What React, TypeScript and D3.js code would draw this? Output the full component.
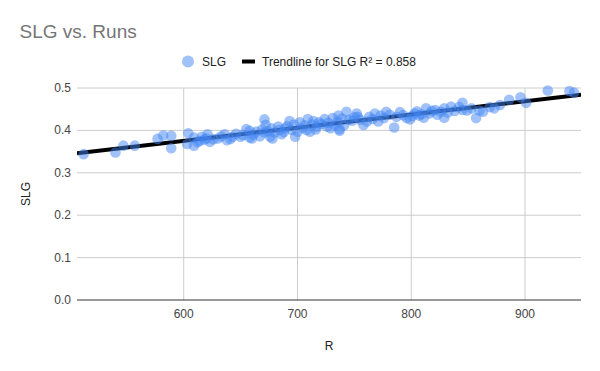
import React from "react";
import * as d3 from "d3";

const runs: number[] = [
  512, 540, 547, 557, 577, 582, 589, 589, 604, 603, 609, 609, 616, 614, 620, 621, 623, 630, 636, 638,
  643, 650, 655, 658, 658, 664, 671, 672, 671, 676, 677, 683, 686, 689, 693, 695, 698, 702, 704, 709,
  711, 714, 717, 724, 726, 721, 729, 731, 736, 737, 743, 745, 752, 753, 758, 761, 768, 771, 778, 785,
  790, 796, 803, 807, 813, 816, 821, 829, 829, 826, 835, 845, 845, 853, 857, 863, 873, 878, 886, 896,
  901, 920, 939, 943,
  612, 618, 626, 633, 641, 646, 652, 661, 667, 669, 674, 680, 684, 688, 691, 697, 700, 706, 708, 713,
  716, 719, 727, 733, 735, 739, 741, 748, 750, 755, 763, 766, 773, 776, 781, 787, 793, 799, 801, 805,
  809, 811, 818, 823, 832, 838, 842, 849, 860, 869, 678, 660, 737,
];

const slg: number[] = [
  0.344, 0.348, 0.364, 0.364, 0.38, 0.388, 0.387, 0.358, 0.393, 0.368, 0.364, 0.383, 0.385, 0.375, 0.381, 0.391, 0.373, 0.381, 0.391, 0.377,
  0.385, 0.385, 0.403, 0.399, 0.383, 0.397, 0.426, 0.413, 0.395, 0.385, 0.405, 0.409, 0.391, 0.405, 0.422, 0.401, 0.385, 0.419, 0.405, 0.427,
  0.397, 0.422, 0.409, 0.427, 0.409, 0.415, 0.405, 0.429, 0.435, 0.399, 0.444, 0.425, 0.44, 0.432, 0.413, 0.421, 0.44, 0.421, 0.444, 0.407,
  0.443, 0.429, 0.44, 0.435, 0.452, 0.44, 0.448, 0.43, 0.452, 0.444, 0.456, 0.465, 0.448, 0.452, 0.429, 0.444, 0.452, 0.46, 0.472, 0.478,
  0.465, 0.494, 0.493, 0.489,
  0.372, 0.378, 0.379, 0.386, 0.38, 0.392, 0.389, 0.39, 0.386, 0.402, 0.398, 0.395, 0.401, 0.396, 0.41, 0.414, 0.397, 0.412, 0.401, 0.414,
  0.402, 0.419, 0.418, 0.412, 0.42, 0.428, 0.412, 0.423, 0.431, 0.425, 0.432, 0.427, 0.435, 0.429, 0.437, 0.432, 0.436, 0.426, 0.434, 0.445,
  0.438, 0.43, 0.446, 0.437, 0.442, 0.446, 0.455, 0.447, 0.447, 0.455, 0.381, 0.381, 0.403,
];

const xTicks: number[] = [600, 700, 800, 900];
const yTicks: number[] = [0, 0.1, 0.2, 0.3, 0.4, 0.5];
const xDomain: [number, number] = [506.2, 949.2];
const yDomain: [number, number] = [0, 0.5];

const title = "SLG vs. Runs";
const seriesName = "SLG";
const trendLabel = "Trendline for SLG R\u00b2 = 0.858";

const W = 600;
const H = 371;
const left = 77;
const right = 581;
const top = 88;
const bottom = 300;
const font = "Arial, 'Liberation Sans', sans-serif";

export default function App() {
  const x = d3.scaleLinear().domain(xDomain).range([left, right]);
  const y = d3.scaleLinear().domain(yDomain).range([bottom, top]);

  const n = runs.length;
  const mx = d3.mean(runs) as number;
  const my = d3.mean(slg) as number;
  let sxy = 0;
  let sxx = 0;
  for (let i = 0; i < n; i++) {
    sxy += (runs[i] - mx) * (slg[i] - my);
    sxx += (runs[i] - mx) ** 2;
  }
  const slope = sxy / sxx;
  const intercept = my - slope * mx;
  const line = d3
    .line<number>()
    .x((d) => x(d))
    .y((d) => y(intercept + slope * d));

  return (
    <svg width={W} height={H} style={{ position: "absolute", left: 0, top: 0, background: "#fff" }}>
      <rect width={W} height={H} fill="#fff" />
      <text x={19.5} y={38} fontFamily={font} fontSize={19} fill="#757575">
        {title}
      </text>
      {/* legend */}
      <circle cx={188} cy={61.5} r={6} fill="#4285f4" fillOpacity={0.5} />
      <text x={202} y={65.8} fontFamily={font} fontSize={12} fill="#222">
        {seriesName}
      </text>
      <line x1={242} x2={255} y1={61.5} y2={61.5} stroke="#000" strokeWidth={4} />
      <text x={262} y={65.8} fontFamily={font} fontSize={12} fill="#222">
        {trendLabel}
      </text>

      {/* grid */}
      {yTicks.filter((t) => t !== 0).map((t) => (
        <line key={"gy" + t} x1={left} x2={right} y1={y(t)} y2={y(t)} stroke="#ccc" strokeWidth={1} />
      ))}
      {xTicks.map((t) => (
        <line key={"gx" + t} x1={x(t)} x2={x(t)} y1={top} y2={bottom} stroke="#ccc" strokeWidth={1} />
      ))}
      <line x1={left} x2={right} y1={bottom} y2={bottom} stroke="#333" strokeWidth={1} />

      {/* tick labels */}
      {yTicks.map((t) => (
        <text
          key={"ty" + t}
          x={71}
          y={y(t) + 4}
          textAnchor="end"
          fontFamily={font}
          fontSize={12}
          fill="#444"
        >
          {d3.format(".1f")(t)}
        </text>
      ))}
      {xTicks.map((t) => (
        <text key={"tx" + t} x={x(t)} y={318} textAnchor="middle" fontFamily={font} fontSize={12} fill="#444">
          {t}
        </text>
      ))}
      <text x={329} y={350} textAnchor="middle" fontFamily={font} fontSize={12} fill="#222">
        R
      </text>
      <text
        transform={`translate(30, ${(top + bottom) / 2}) rotate(-90)`}
        textAnchor="middle"
        fontFamily={font}
        fontSize={12}
        fill="#222"
      >
        SLG
      </text>

      <defs>
        <clipPath id="plotclip">
          <rect x={left} y={top - 10} width={right - left} height={bottom - top + 10} />
        </clipPath>
      </defs>
      <path d={line(xDomain) || ""} stroke="#000" strokeWidth={4} fill="none" clipPath="url(#plotclip)" />
      {runs.map((r, i) => (
        <circle key={i} cx={x(r)} cy={y(slg[i])} r={5.3} fill="#4285f4" fillOpacity={0.5} />
      ))}
    </svg>
  );
}
